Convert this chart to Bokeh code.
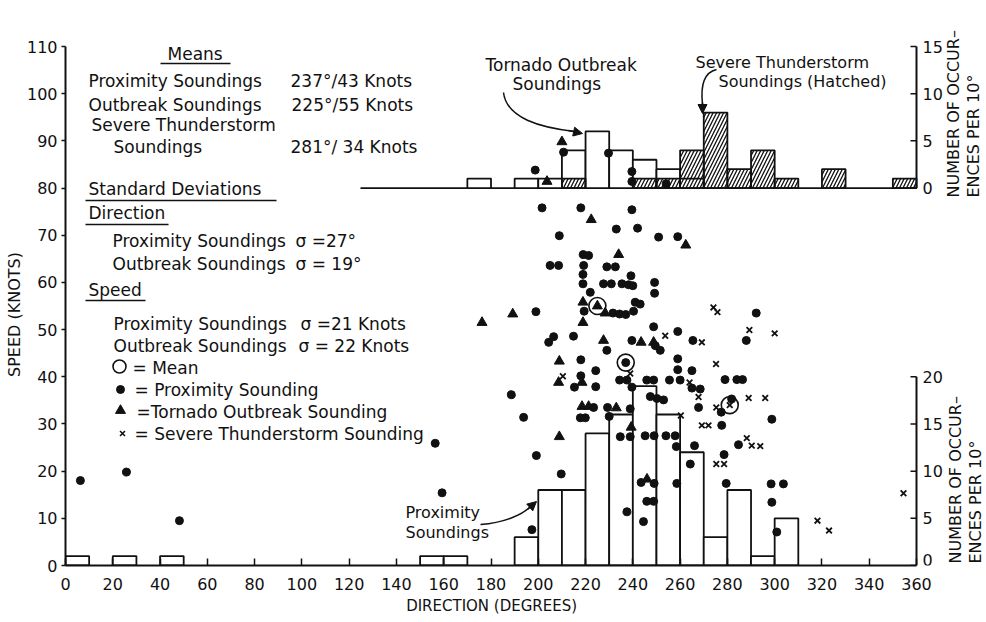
from bokeh.plotting import figure
from bokeh.models import Range1d, FixedTicker, Label, Arrow, NormalHead
from bokeh.embed import file_html
from bokeh.resources import INLINE
import math

FONT = "DejaVu Sans"

# ---------------- data ----------------
# bottom histogram: proximity soundings, bins of 10 degrees (left edges), counts
prox_bins = [0, 20, 40, 150, 160, 190, 200, 210, 220, 230, 240, 250, 260, 270, 280, 290, 300]
prox_counts = [1, 1, 1, 1, 1, 3, 8, 8, 14, 16, 19, 16, 12, 3, 8, 1, 5]

# top histogram: tornado outbreak soundings (open) and severe thunderstorm soundings (hatched)
torn_bins = [170, 190, 200, 210, 220, 230, 240, 250, 260]
torn_counts = [1, 1, 1, 4, 6, 4, 3, 2, 1]
sev_bins = [210, 240, 250, 260, 270, 280, 290, 300, 320, 350]
sev_counts = [1, 1, 1, 4, 8, 2, 4, 1, 2, 1]

# scatter: proximity soundings (direction deg, speed knots)
prox_dir = [198.7, 210.7, 229.7, 239.6, 239.6, 254.1,
            201.6, 218, 239.6, 233, 242, 208.9, 250.9, 259,
            219, 221.3, 205, 208.6, 219.2, 229, 232.6,
            239.2, 218.9, 218.9, 227.6, 230.9, 235.4, 238.2, 240,
            249.2, 249.2, 222, 219.4, 231.6, 234.4, 237,
            241, 243.1, 240.3, 199, 248.8, 259, 265.4,
            292.2, 288, 206.5, 204.4, 214.9, 229, 239.6,
            249.5, 251.6, 218, 224.3, 259, 259, 265,
            279, 284, 286.4, 218, 224.3, 234.4, 237.5, 245.9, 248.8, 255.5, 260,
            215.3, 239.6, 265, 268.5, 247.4, 250.2, 253, 281.8,
            223.4, 229.3, 238.9, 267.8, 277.4, 217.8, 219.9, 230, 298.8,
            234.7, 238.9, 245.2, 249, 254, 257.9, 277.6,
            258.4, 266.1, 284.7, 278.6, 264.3, 279.5, 258.6, 243.5, 249,
            245.9, 248.8, 237.5, 244.5, 209.7, 199.2, 193.8, 188.6, 197.3,
            298.5, 303.7, 298.8, 300.9, 6.3, 25.8, 48.2, 156.4, 159.3, 237]
prox_spd = [83.8, 87.6, 87.4, 83.5, 81.4, 80.9,
            75.8, 75.8, 75.4, 71.3, 71.5, 69.9, 69.6, 69.7,
            65.9, 65.7, 63.6, 63.6, 63.6, 63.3, 63.3,
            61.4, 61.7, 59.7, 59.7, 59.7, 59.7, 59.5, 59.3,
            60, 57.7, 57.9, 53.9, 53.5, 53.3, 53.2,
            55.8, 55.4, 53.9, 53.8, 50.6, 49.6, 47.7,
            53.5, 47.7, 48.5, 47.3, 48.6, 45.6, 47.7,
            46.6, 45.6, 43.6, 41.3, 43.8, 41.5, 41.3,
            39.4, 39.4, 39.4, 40.2, 37.9, 39.3, 39.3, 39.3, 39.3, 39.3, 39.3,
            37.8, 37.8, 37.6, 37.4, 35.8, 35.4, 35.1, 35.3,
            33.5, 33.5, 33.2, 33.5, 32.5, 31.3, 31.3, 31.6, 31,
            27.3, 27.3, 27.5, 27.5, 27.5, 27.5, 29.7,
            25.2, 25.4, 25.6, 23.5, 21.5, 17.4, 17.4, 17.6, 17.4,
            13.6, 13.6, 11.4, 9.3, 19.4, 23.3, 31.4, 36.2, 7.6,
            17.3, 17.3, 13.4, 7.1, 18, 19.8, 9.5, 25.9, 15.4, 43]

# tornado outbreak soundings
torn_dir = [210, 203.7, 222.4, 262.4, 234, 218.9, 225, 228.3, 176.2, 189.2, 218.9,
            227.6, 243.5, 248.8, 208.9, 208.6, 218.5, 218.5, 221.3, 233, 239.3, 208.9, 246]
torn_spd = [89.8, 81.4, 73.3, 67.9, 65.9, 55.8, 55, 53.5, 51.5, 53.3, 51.5,
            47.7, 47.3, 47.3, 43.3, 38.8, 38.8, 33.7, 33.7, 33.4, 29.3, 27.3, 18.3]

# severe thunderstorm soundings
sev_dir = [274.1, 275.8, 289.3, 300, 253.7, 269.2, 275.2, 238.9, 210.4, 264, 267.8,
           289, 296, 275.3, 260.3, 269.2, 272, 288.2, 290.3, 293.9, 275.3, 278.6,
           318.1, 323, 354.5, 281]
sev_spd = [54.7, 53.7, 49.9, 49.2, 48.7, 47.3, 42.7, 40.7, 40.1, 38.8, 35.7,
           35.5, 35.5, 33.5, 31.8, 29.7, 29.7, 27, 25.4, 25.3, 21.5, 21.5,
           9.5, 7.4, 15.3, 34]

# means (direction, speed): proximity, outbreak, severe
mean_dir = [237, 225, 281]
mean_spd = [43, 55, 34]

x_ticks = list(range(0, 361, 20))
y_ticks = list(range(0, 111, 10))
right_ticks = [0, 10, 20, 30, 40, 80, 90, 100, 110]
right_labels = ["0", "5", "10", "15", "20", "0", "5", "10", "15"]
TOP_BASE = 80      # knots where the upper histogram starts
KN_PER_COUNT = 2   # knots per occurrence on both histogram scales

# ---------------- geometry (page px of the data frame) ----------------
FX0, FX1 = 65.0, 916.0    # x = 0 and x = 360
FY0, FY1 = 565.0, 46.0    # y = 0 and y = 110
FR, FT = 984.0, 2.0       # right / top edge of drawing area
XEND = 360.0 * (FR - FX0) / (FX1 - FX0)
YEND = 110.0 * (FY0 - FT) / (FY0 - FY1)


def X(px):
    return (px - FX0) * 360.0 / (FX1 - FX0)


def Y(py):
    return (FY0 - py) * 110.0 / (FY0 - FY1)


INK = "#111111"
NB = "\u00a0"

p = figure(width=986, height=622, output_backend="svg", toolbar_location=None,
           x_range=Range1d(0, XEND), y_range=Range1d(0, YEND),
           min_border_left=65, min_border_right=2, min_border_top=2, min_border_bottom=57)
p.outline_line_color = None
p.grid.visible = False
p.background_fill_color = "white"
p.border_fill_color = "white"

# axes
xa = p.xaxis[0]
xa.ticker = FixedTicker(ticks=x_ticks)
xa.bounds = (0, 360)
xa.major_tick_in = 7
xa.major_tick_out = 0
xa.minor_tick_line_color = None
xa.axis_line_width = 2
xa.major_tick_line_width = 1.5
xa.axis_line_color = INK
xa.major_tick_line_color = INK
xa.major_label_text_font = FONT
xa.major_label_text_font_size = "16px"
xa.major_label_text_color = INK
xa.major_label_standoff = 12
# padded so that the title sits under the 0-360 axis as in the original
xa.axis_label = "DIRECTION (DEGREES)" + NB * 14
xa.axis_label_text_font = FONT
xa.axis_label_text_font_size = "15px"
xa.axis_label_text_font_style = "normal"
xa.axis_label_text_color = INK
xa.axis_label_standoff = 4

ya = p.yaxis[0]
ya.ticker = FixedTicker(ticks=y_ticks)
ya.bounds = (0, 110)
ya.major_tick_in = 0
ya.major_tick_out = 4
ya.minor_tick_line_color = None
ya.axis_line_width = 2
ya.major_tick_line_width = 1.5
ya.axis_line_color = INK
ya.major_tick_line_color = INK
ya.major_label_text_font = FONT
ya.major_label_text_font_size = "16px"
ya.major_label_text_color = INK
ya.major_label_standoff = 4
ya.axis_label = "SPEED (KNOTS)" + NB * 12
ya.axis_label_text_font = FONT
ya.axis_label_text_font_size = "16px"
ya.axis_label_text_font_style = "normal"
ya.axis_label_text_color = INK
ya.axis_label_standoff = 0

# right-hand occurrence scales (lower: proximity, upper: outbreak / severe)
TICK = 6.0 * 360.0 / (FX1 - FX0)
p.segment(x0=[360, 360], y0=[0, TOP_BASE], x1=[360, 360],
          y1=[20 * KN_PER_COUNT, TOP_BASE + 15 * KN_PER_COUNT], line_color=INK, line_width=2)
p.segment(x0=[360 - TICK] * len(right_ticks), y0=right_ticks,
          x1=[360] * len(right_ticks), y1=right_ticks, line_color=INK, line_width=1.5)
for t, l in zip(right_ticks, right_labels):
    # the lowest label would be cut by the drawing edge: sit it on the baseline
    base = "bottom" if t == 0 else "middle"
    p.add_layout(Label(x=X(922), y=t, text=l, text_font=FONT, text_font_size="16px",
                       text_color=INK, text_align="left", text_baseline=base))

# ---------------- histograms ----------------
p.quad(left=prox_bins, right=[b + 10 for b in prox_bins], bottom=0,
       top=[c * KN_PER_COUNT for c in prox_counts],
       fill_color="white", line_color=INK, line_width=1.8)

p.segment(x0=[X(360)], y0=[TOP_BASE], x1=[360], y1=[TOP_BASE], line_color=INK, line_width=1.8)
p.quad(left=torn_bins, right=[b + 10 for b in torn_bins], bottom=TOP_BASE,
       top=[TOP_BASE + c * KN_PER_COUNT for c in torn_counts],
       fill_color="white", line_color=INK, line_width=1.8)
p.quad(left=sev_bins, right=[b + 10 for b in sev_bins], bottom=TOP_BASE,
       top=[TOP_BASE + c * KN_PER_COUNT for c in sev_counts],
       fill_color="white", fill_alpha=0, line_color=INK, line_width=1.8,
       hatch_pattern="/", hatch_color=INK, hatch_scale=7, hatch_weight=1.3)

# ---------------- scatter ----------------
p.scatter(prox_dir, prox_spd, marker="circle", size=8, fill_color=INK, line_color=INK)
p.scatter(torn_dir, torn_spd, marker="triangle", size=10, fill_color=INK, line_color=INK)
p.scatter(sev_dir, sev_spd, marker="x", size=8, line_color=INK, line_width=1.8)
p.scatter(mean_dir, mean_spd, marker="circle", size=17, fill_color=None, line_color=INK,
          line_width=1.6)


# ---------------- text ----------------
def T(px, py, s, size="17px", align="left", angle=0.0):
    p.add_layout(Label(x=X(px), y=Y(py), text=s, text_font=FONT, text_font_size=size,
                       text_color=INK, text_align=align, text_baseline="middle",
                       angle=angle))


def U(px0, px1, py):
    p.segment(x0=[X(px0)], y0=[Y(py)], x1=[X(px1)], y1=[Y(py)], line_color=INK, line_width=1.5)


T(167, 53, "Means"); U(160, 230, 63)
T(88, 80, "Proximity Soundings"); T(290, 80, "237°/43 Knots")
T(88, 104, "Outbreak Soundings"); T(291, 104, "225°/55 Knots")
T(91, 124, "Severe Thunderstorm")
T(113, 146, "Soundings"); T(290, 146, "281°/ 34 Knots")
T(88, 188, "Standard Deviations"); U(85, 276, 200)
T(88, 212, "Direction"); U(85, 168, 224)
T(112, 240, "Proximity Soundings"); T(295, 240, "σ =27°")
T(112, 263, "Outbreak Soundings"); T(295, 263, "σ = 19°")
T(88, 289, "Speed"); U(85, 145, 300)
T(113, 323, "Proximity Soundings"); T(300, 323, "σ =21 Knots")
T(113, 345, "Outbreak Soundings"); T(298, 345, "σ = 22 Knots")
T(132, 367, "= Mean")
T(134, 389, "= Proximity Sounding")
T(136, 411, "=Tornado Outbreak Sounding")
T(134, 433, "= Severe Thunderstorm Sounding")
p.scatter([X(119)], [Y(366)], marker="circle", size=13, fill_color=None, line_color=INK, line_width=1.6)
p.scatter([X(120)], [Y(389)], marker="circle", size=8, fill_color=INK, line_color=INK)
p.scatter([X(120)], [Y(410)], marker="triangle", size=10, fill_color=INK, line_color=INK)
p.scatter([X(122)], [Y(433)], marker="x", size=7, line_color=INK, line_width=1.6)

T(485, 64, "Tornado  Outbreak")
T(512, 83, "Soundings")
T(695, 62, "Severe Thunderstorm", size="16px")
T(718, 81, "Soundings (Hatched)", size="16px")
T(405, 512, "Proximity", size="16px")
T(405, 532, "Soundings", size="16px")

T(953, 197, "NUMBER OF OCCUR–", size="16px", angle=math.pi / 2)
T(973, 197, "ENCES PER  10°", size="16px", angle=math.pi / 2)
T(955, 563, "NUMBER OF OCCUR–", size="16px", angle=math.pi / 2)
T(975, 563, "ENCES PER  10°", size="16px", angle=math.pi / 2)

# ---------------- arrows ----------------
p.bezier(x0=[X(503)], y0=[Y(92)], x1=[X(574)], y1=[Y(131)],
         cx0=[X(506)], cy0=[Y(118)], cx1=[X(540)], cy1=[Y(127)], line_color=INK, line_width=1.5)
p.add_layout(Arrow(end=NormalHead(size=9, fill_color=INK, line_color=INK),
                   x_start=X(568), y_start=Y(130), x_end=X(582), y_end=Y(133),
                   line_color=INK, line_width=1.5))
p.bezier(x0=[X(716)], y0=[Y(69)], x1=[X(702)], y1=[Y(104)],
         cx0=[X(703)], cy0=[Y(72)], cx1=[X(700)], cy1=[Y(86)], line_color=INK, line_width=1.5)
p.add_layout(Arrow(end=NormalHead(size=9, fill_color=INK, line_color=INK),
                   x_start=X(702), y_start=Y(102), x_end=X(702), y_end=Y(113),
                   line_color=INK, line_width=1.5))
p.bezier(x0=[X(480)], y0=[Y(524)], x1=[X(530)], y1=[Y(506)],
         cx0=[X(505)], cy0=[Y(522)], cx1=[X(522)], cy1=[Y(514)], line_color=INK, line_width=1.5)
p.add_layout(Arrow(end=NormalHead(size=9, fill_color=INK, line_color=INK),
                   x_start=X(527), y_start=Y(509), x_end=X(536), y_end=Y(501),
                   line_color=INK, line_width=1.5))

open("out.html", "w").write(file_html(p, INLINE))
